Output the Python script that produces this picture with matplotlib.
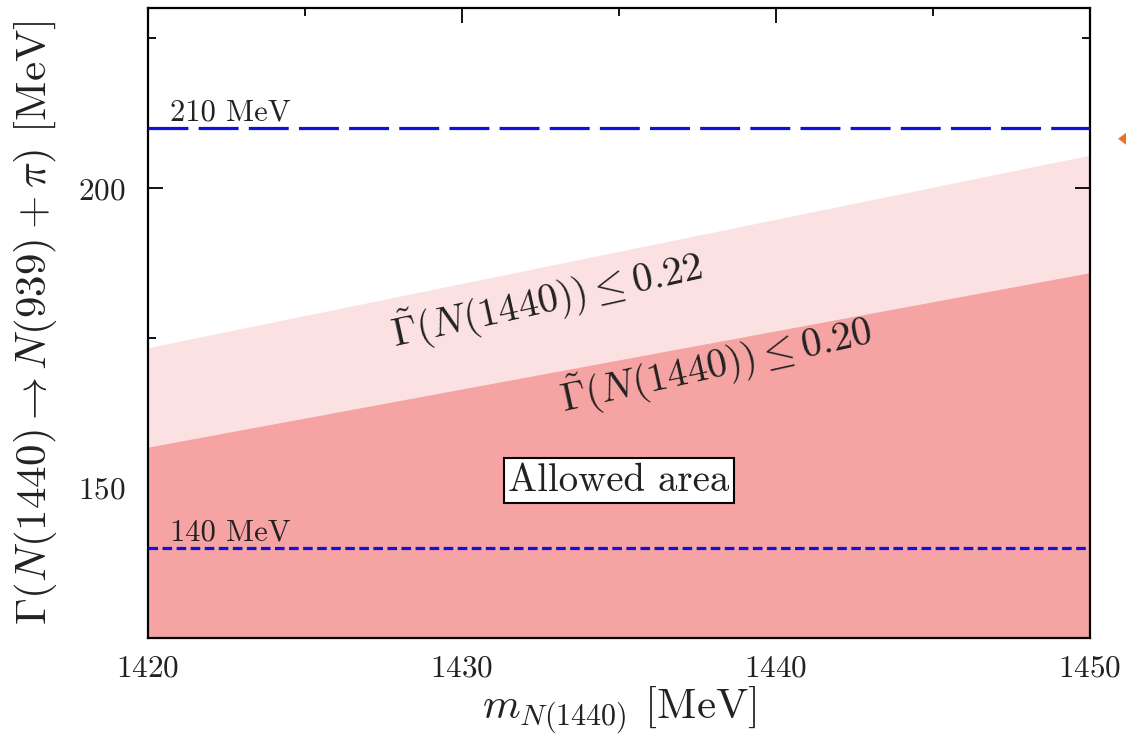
import matplotlib
matplotlib.use('Agg')
import matplotlib.pyplot as plt
from matplotlib.patches import Polygon
from matplotlib.ticker import MultipleLocator

plt.rcParams['font.family'] = 'serif'
plt.rcParams['font.serif'] = ['cmr10', 'DejaVu Serif']
plt.rcParams['mathtext.fontset'] = 'cm'
plt.rcParams['axes.formatter.use_mathtext'] = True

# boundaries of the allowed regions
mass = [1420, 1450]
width_022 = [173.4, 205.5]   # Gamma~ <= 0.22
width_020 = [156.8, 185.9]   # Gamma~ <= 0.20
y_min, y_max = 125, 230
line_210 = 210
line_140 = 140

fig = plt.figure(figsize=(11.26, 7.46), dpi=100)
ax = fig.add_axes([0.1314, 0.145, 0.8366, 0.844])

ax.fill_between(mass, y_min, width_022, color='#fbe1e1', lw=0, zorder=1)
ax.fill_between(mass, y_min, width_020, color='#f5a3a3', lw=0, zorder=2)

ax.axhline(line_210, color='#1010e0', lw=2.3, dashes=(12.5, 3.2), zorder=3)
ax.axhline(line_140, color='#1010e0', lw=2.3, dashes=(3.0, 1.4), zorder=3)

ax.text(1420.7, line_210 + 0.2, '210 MeV', fontsize=22, va='bottom', ha='left', color='#222222', zorder=4)
ax.text(1420.7, line_140 + 0.2, '140 MeV', fontsize=22, va='bottom', ha='left', color='#222222', zorder=4)

ax.text(1432.7, 181.4, r'$\tilde{\Gamma}(N(1440)) \leq 0.22$', fontsize=29, rotation=12.5,
        ha='center', va='center', color='#222222', zorder=4)
ax.text(1438.1, 170.6, r'$\tilde{\Gamma}(N(1440)) \leq 0.20$', fontsize=29, rotation=12.5,
        ha='center', va='center', color='#222222', zorder=4)

ax.text(1435.0, 151.2, 'Allowed area', fontsize=28, ha='center', va='center', color='#222222',
        bbox=dict(boxstyle='square,pad=0.12', fc='white', ec='black', lw=1.5), zorder=5)

ax.set_xlim(1420, 1450)
ax.set_ylim(y_min, y_max)
ax.xaxis.set_major_locator(MultipleLocator(10))
ax.xaxis.set_minor_locator(MultipleLocator(5))
ax.yaxis.set_major_locator(MultipleLocator(50))
ax.yaxis.set_minor_locator(MultipleLocator(25))
ax.tick_params(which='both', direction='in', top=True, right=True, labelsize=22.5, width=1.3,
               labelcolor='#222222')
ax.tick_params(which='major', length=11)
ax.tick_params(axis='x', which='major', pad=12)
ax.tick_params(axis='y', which='major', pad=16)
ax.tick_params(which='minor', length=6)
for s in ax.spines.values():
    s.set_linewidth(1.6)

ax.set_xlabel(r'$m_{N(1440)}$ [MeV]', fontsize=31, labelpad=2, color='#222222')
ax.set_ylabel(r'$\Gamma(N(1440) \rightarrow N(939) + \pi)$ [MeV]', fontsize=31, labelpad=14,
              color='#222222')

# small orange marker at right edge of the original screenshot
fig.patches.append(Polygon([[0.993, 0.814], [1.0, 0.822], [1.0, 0.806]], closed=True,
                           transform=fig.transFigure, fc='#f07020', ec='none'))

fig.savefig('out.png', dpi=100)
